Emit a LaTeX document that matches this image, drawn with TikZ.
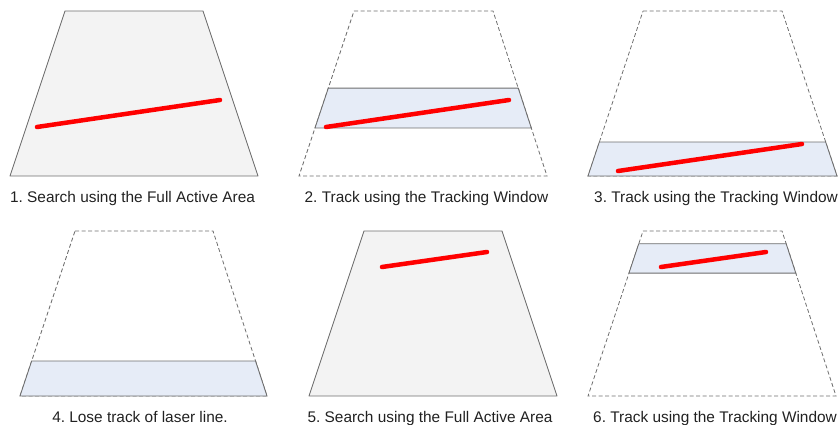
\documentclass[tikz,border=0pt]{standalone}
\usepackage{fontspec}
\setmainfont{Liberation Sans}
\usetikzlibrary{calc}
\definecolor{areagray}{RGB}{243,243,243}
\definecolor{edgegray}{RGB}{110,110,110}
\definecolor{winblue}{RGB}{230,236,247}
\definecolor{laserred}{RGB}{255,0,0}
\definecolor{captext}{RGB}{33,33,33}
\frenchspacing

\begin{document}
\begin{tikzpicture}[x=1pt, y=-1pt,
  area/.style={draw=edgegray, fill=areagray, line width=0.9pt, line join=round},
  outline/.style={draw=edgegray, dash pattern=on 4pt off 2.5pt, line width=0.8pt},
  window/.style={draw=edgegray, fill=winblue, line width=0.9pt},
  laser/.style={draw=laserred, line width=4.5pt, line cap=round},
  caption/.style={font=\fontsize{15.4}{18}\selectfont, text=captext,
                  inner sep=0pt, anchor=base},
  ]
  \useasboundingbox (0,0) rectangle (840,425);

  % 1. full active area
  \coordinate (a1) at (65,11);  \coordinate (b1) at (203,11);
  \coordinate (c1) at (258,176); \coordinate (d1) at (10,176);
  \draw[area] (a1) -- (b1) -- (c1) -- (d1) -- cycle;
  \coordinate (s1) at (37,127); \coordinate (e1) at (220,100);
  \draw[laser] (s1) -- (e1);
  \node[caption] (cap1) at (132.5,202.5) {1. Search using the Full Active Area};

  % 2. tracking window in the middle
  \coordinate (a2) at (354,11);  \coordinate (b2) at (493,11);
  \coordinate (c2) at (547,176); \coordinate (d2) at (299,176);
  \draw[outline] (a2) -- (b2) -- (c2) -- (d2) -- cycle;
  \draw[window] ($(a2)!0.467!(d2)$) -- ($(b2)!0.467!(c2)$)
    -- ($(b2)!0.709!(c2)$) -- ($(a2)!0.709!(d2)$) -- cycle;
  \coordinate (s2) at (326,127); \coordinate (e2) at (509,100);
  \draw[laser] (s2) -- (e2);
  \node[caption] (cap2) at (426.5,202.5) {2. Track using the Tracking Window};

  % 3. tracking window at the bottom
  \coordinate (a3) at (643,11);  \coordinate (b3) at (782,11);
  \coordinate (c3) at (837,176); \coordinate (d3) at (588,176);
  \draw[outline] (a3) -- (b3) -- (c3) -- (d3) -- cycle;
  \draw[window] ($(a3)!0.794!(d3)$) -- ($(b3)!0.794!(c3)$)
    -- (c3) -- (d3) -- cycle;
  \coordinate (s3) at (618,171); \coordinate (e3) at (802,144);
  \draw[laser] (s3) -- (e3);
  \node[caption] (cap3) at (716,202.5) {3. Track using the Tracking Window};

  % 4. line lost
  \coordinate (a4) at (75,231);  \coordinate (b4) at (213,231);
  \coordinate (c4) at (267,396); \coordinate (d4) at (20,396);
  \draw[outline] (a4) -- (b4) -- (c4) -- (d4) -- cycle;
  \draw[window] ($(a4)!0.788!(d4)$) -- ($(b4)!0.788!(c4)$)
    -- (c4) -- (d4) -- cycle;
  \node[caption] (cap4) at (140,422) {4. Lose track of laser line.};

  % 5. full active area again
  \coordinate (a5) at (364,231);  \coordinate (b5) at (502,231);
  \coordinate (c5) at (557,396); \coordinate (d5) at (309,396);
  \draw[area] (a5) -- (b5) -- (c5) -- (d5) -- cycle;
  \coordinate (s5) at (382,267); \coordinate (e5) at (487,252);
  \draw[laser] (s5) -- (e5);
  \node[caption] (cap5) at (430,422) {5. Search using the Full Active Area};

  % 6. tracking window at the top
  \coordinate (a6) at (643,231);  \coordinate (b6) at (782,231);
  \coordinate (c6) at (836,396); \coordinate (d6) at (588,396);
  \draw[outline] (a6) -- (b6) -- (c6) -- (d6) -- cycle;
  \draw[window] ($(a6)!0.077!(d6)$) -- ($(b6)!0.077!(c6)$)
    -- ($(b6)!0.255!(c6)$) -- ($(a6)!0.255!(d6)$) -- cycle;
  \coordinate (s6) at (661,267); \coordinate (e6) at (766,252);
  \draw[laser] (s6) -- (e6);
  \node[caption] (cap6) at (715,422) {6. Track using the Tracking Window};
\end{tikzpicture}
\end{document}
